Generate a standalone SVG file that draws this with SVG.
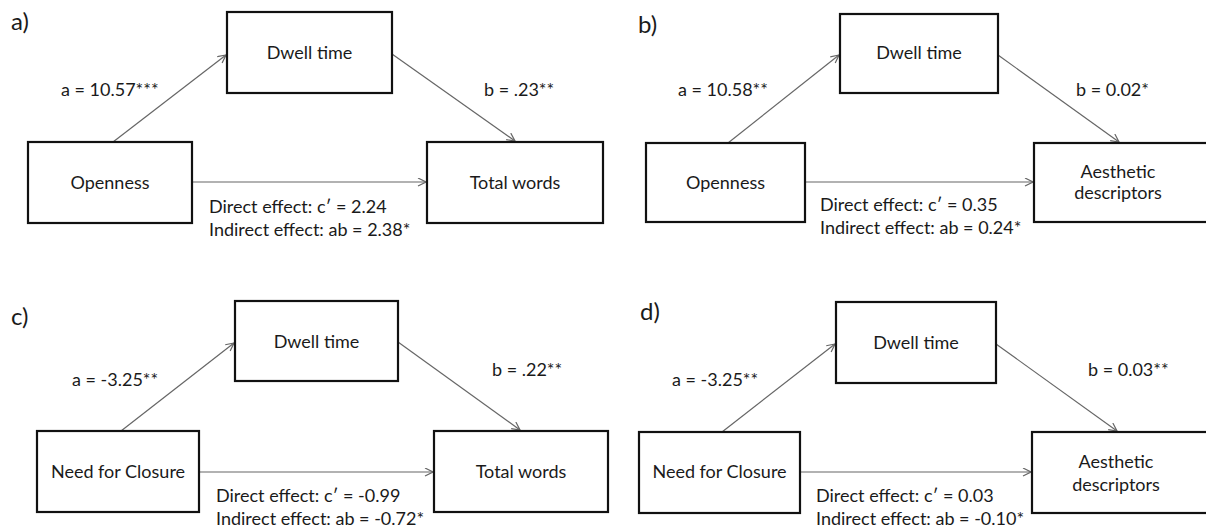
<svg xmlns="http://www.w3.org/2000/svg" width="1206" height="529" viewBox="0 0 1206 529">
  <style>
    .box { fill: #ffffff; stroke: #111111; stroke-width: 2.2; }
    .t { font-family: Lato, "Liberation Sans", sans-serif; font-size: 18px; fill: #1a1a1a; }
    .c { text-anchor: middle; }
    .pl { font-family: Lato, "Liberation Sans", sans-serif; font-size: 24px; fill: #1a1a1a; }
    .arr { stroke: #666666; stroke-width: 1.2; fill: none; marker-end: url(#ah); }
  </style>
  <defs>
    <marker id="ah" markerUnits="userSpaceOnUse" markerWidth="10" markerHeight="10" refX="9" refY="4.5" orient="auto">
      <path d="M1,0.5 L9,4.5 L1,8.5" fill="none" stroke="#666666" stroke-width="1.2"/>
    </marker>
  </defs>
  <rect width="1206" height="529" fill="#ffffff"/>

  <g id="connectors">
    <line class="arr" x1="113" y1="142" x2="226" y2="55"/>
    <line class="arr" x1="392" y1="54" x2="515" y2="141"/>
    <line class="arr" x1="192" y1="182" x2="426" y2="182"/>
    <line class="arr" x1="728" y1="143" x2="839" y2="55"/>
    <line class="arr" x1="998" y1="55" x2="1119" y2="142"/>
    <line class="arr" x1="805" y1="182" x2="1033" y2="182"/>
    <line class="arr" x1="121" y1="431" x2="234" y2="343"/>
    <line class="arr" x1="398" y1="342" x2="520" y2="430"/>
    <line class="arr" x1="199" y1="472" x2="433" y2="472"/>
    <line class="arr" x1="722" y1="432" x2="835" y2="344"/>
    <line class="arr" x1="996" y1="344" x2="1117" y2="431"/>
    <line class="arr" x1="800" y1="472" x2="1031" y2="472"/>
  </g>

  <g id="panel-a">
    <text class="pl" x="11" y="30">a)</text>
    <g id="a-dwell"><rect class="box" x="227" y="12" width="165" height="81"/><text class="t c" x="309.5" y="59">Dwell time</text></g>
    <g id="a-openness"><rect class="box" x="28" y="142" width="164" height="81"/><text class="t c" x="110" y="189">Openness</text></g>
    <g id="a-total"><rect class="box" x="427" y="142" width="176" height="81"/><text class="t c" x="515" y="189">Total words</text></g>
    <text class="t" x="61" y="96">a = 10.57***</text>
    <text class="t" x="484" y="96">b = .23**</text>
    <text class="t" x="209" y="213">Direct effect: c′ = 2.24</text>
    <text class="t" x="209" y="236">Indirect effect: ab = 2.38*</text>
  </g>

  <g id="panel-b">
    <text class="pl" x="638" y="33">b)</text>
    <g id="b-dwell"><rect class="box" x="840" y="14" width="158" height="79"/><text class="t c" x="919" y="59">Dwell time</text></g>
    <g id="b-openness"><rect class="box" x="646" y="143" width="159" height="79"/><text class="t c" x="725.5" y="189">Openness</text></g>
    <g id="b-aesthetic"><rect class="box" x="1034" y="143" width="200" height="79"/><text class="t c" x="1118" y="178">Aesthetic</text><text class="t c" x="1118" y="199">descriptors</text></g>
    <text class="t" x="678" y="96">a = 10.58**</text>
    <text class="t" x="1076" y="96">b = 0.02*</text>
    <text class="t" x="820" y="211">Direct effect: c′ = 0.35</text>
    <text class="t" x="820" y="234">Indirect effect: ab = 0.24*</text>
  </g>

  <g id="panel-c">
    <text class="pl" x="11" y="325">c)</text>
    <g id="c-dwell"><rect class="box" x="235" y="301" width="163" height="80"/><text class="t c" x="316.5" y="348">Dwell time</text></g>
    <g id="c-nfc"><rect class="box" x="37" y="431" width="162" height="81"/><text class="t c" x="118" y="478">Need for Closure</text></g>
    <g id="c-total"><rect class="box" x="434" y="431" width="174" height="81"/><text class="t c" x="521" y="478">Total words</text></g>
    <text class="t" x="72" y="386">a = -3.25**</text>
    <text class="t" x="492" y="376">b = .22**</text>
    <text class="t" x="216" y="502">Direct effect: c′ = -0.99</text>
    <text class="t" x="216" y="525">Indirect effect: ab = -0.72*</text>
  </g>

  <g id="panel-d">
    <text class="pl" x="640" y="320">d)</text>
    <g id="d-dwell"><rect class="box" x="836" y="302" width="160" height="81"/><text class="t c" x="916" y="349">Dwell time</text></g>
    <g id="d-nfc"><rect class="box" x="639" y="432" width="161" height="81"/><text class="t c" x="719.5" y="478">Need for Closure</text></g>
    <g id="d-aesthetic"><rect class="box" x="1032" y="432" width="200" height="81"/><text class="t c" x="1116" y="468">Aesthetic</text><text class="t c" x="1116" y="491">descriptors</text></g>
    <text class="t" x="672" y="386">a = -3.25**</text>
    <text class="t" x="1088" y="376">b = 0.03**</text>
    <text class="t" x="816" y="502">Direct effect: c′ = 0.03</text>
    <text class="t" x="816" y="525">Indirect effect: ab = -0.10*</text>
  </g>
</svg>
